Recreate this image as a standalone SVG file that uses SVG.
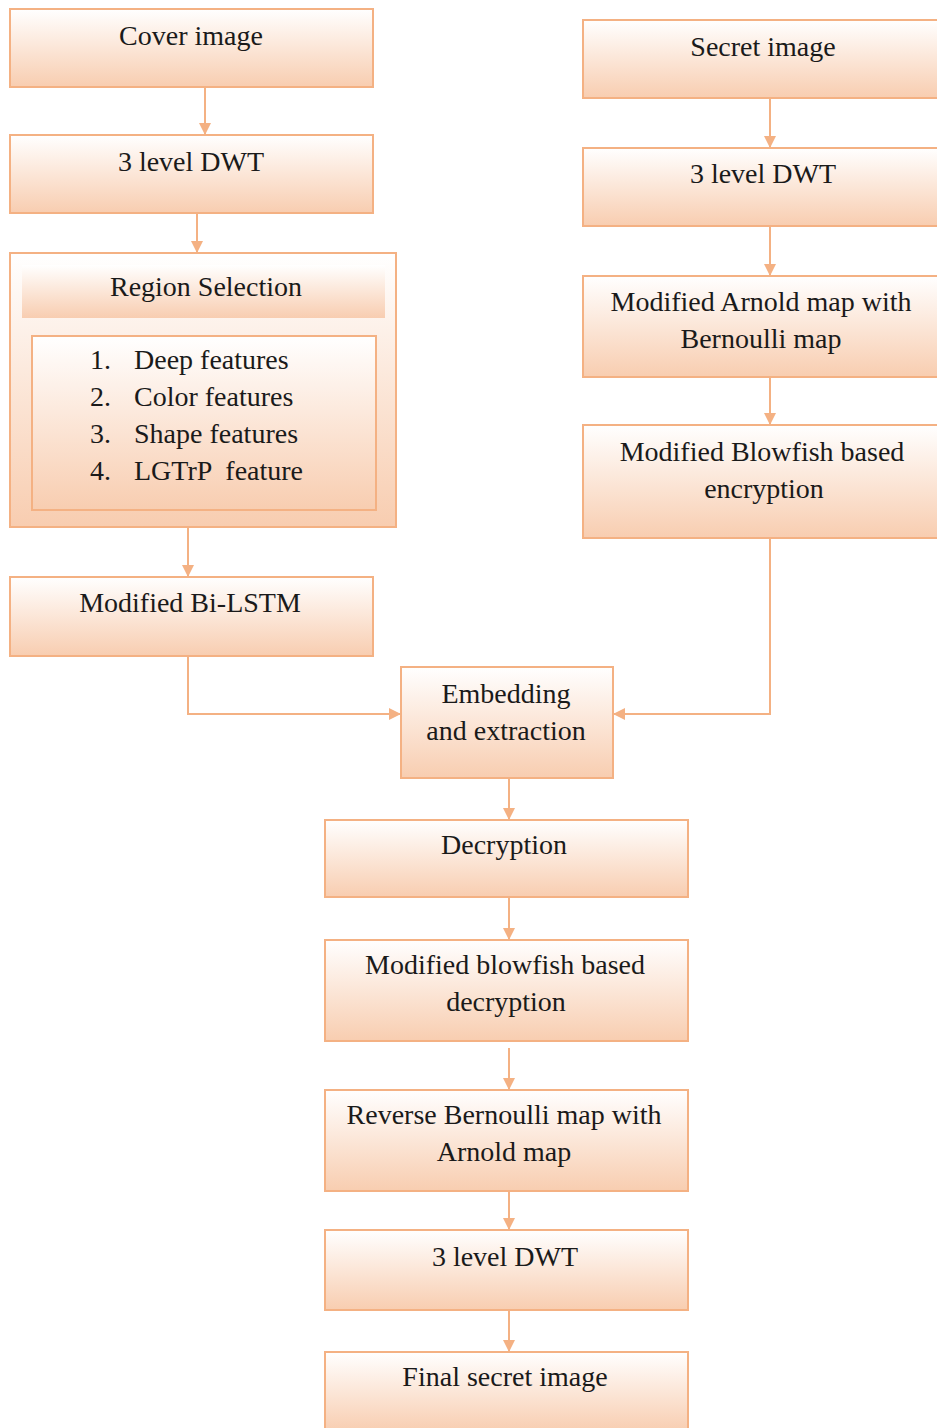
<svg xmlns="http://www.w3.org/2000/svg" width="937" height="1428" viewBox="0 0 937 1428">
<style>
.box{fill:url(#g);stroke:#f4b183;stroke-width:2}
.t{font-family:"Liberation Serif","Times New Roman","DejaVu Serif",serif;font-size:28px;fill:#1a1a1a;text-anchor:middle}
.tl{font-family:"Liberation Serif","Times New Roman","DejaVu Serif",serif;font-size:28px;fill:#1a1a1a}
.c{fill:none;stroke:#f4b183;stroke-width:2}
</style>
<defs>
<linearGradient id="g" x1="0" y1="0" x2="0" y2="1">
<stop offset="0" stop-color="#ffffff"/>
<stop offset="1" stop-color="#f8cdb0"/>
</linearGradient>
<marker id="a" markerWidth="12" markerHeight="12" refX="11" refY="6" orient="auto" markerUnits="userSpaceOnUse">
<path d="M0,0 L12,6 L0,12 Z" fill="#f4b183"/>
</marker>
</defs>
<rect width="937" height="1428" fill="#fff"/>
<g id="connectors">
<path class="c" d="M205,87 V134" marker-end="url(#a)"/>
<path class="c" d="M197,213 V252" marker-end="url(#a)"/>
<path class="c" d="M188,527 V576" marker-end="url(#a)"/>
<path class="c" d="M188,656 V714 H400" marker-end="url(#a)"/>
<path class="c" d="M770,98 V147" marker-end="url(#a)"/>
<path class="c" d="M770,226 V275" marker-end="url(#a)"/>
<path class="c" d="M770,377 V424" marker-end="url(#a)"/>
<path class="c" d="M770,538 V714 H614" marker-end="url(#a)"/>
<path class="c" d="M509,778 V819" marker-end="url(#a)"/>
<path class="c" d="M509,897 V939" marker-end="url(#a)"/>
<path class="c" d="M509,1048 V1089" marker-end="url(#a)"/>
<path class="c" d="M509,1191 V1229" marker-end="url(#a)"/>
<path class="c" d="M509,1310 V1351" marker-end="url(#a)"/>
</g>
<g id="cover"><rect class="box" x="10" y="9" width="363" height="78"/><text class="t" x="191" y="45">Cover image</text></g>
<g id="dwt1"><rect class="box" x="10" y="135" width="363" height="78"/><text class="t" x="191" y="171">3 level DWT</text></g>
<g id="region">
<rect class="box" x="10" y="253" width="386" height="274"/>
<rect x="22" y="265" width="363" height="53" fill="url(#g)"/>
<text class="t" x="206" y="296">Region Selection</text>
<rect class="box" x="32" y="336" width="344" height="174"/>
<text class="tl" x="90" y="369">1.</text><text class="tl" x="134" y="369">Deep features</text>
<text class="tl" x="90" y="406">2.</text><text class="tl" x="134" y="406">Color features</text>
<text class="tl" x="90" y="443">3.</text><text class="tl" x="134" y="443">Shape features</text>
<text class="tl" x="90" y="480">4.</text><text class="tl" x="134" y="480" xml:space="preserve">LGTrP  feature</text>
</g>
<g id="bilstm"><rect class="box" x="10" y="577" width="363" height="79"/><text class="t" x="190" y="612">Modified Bi-LSTM</text></g>
<g id="secret"><rect class="box" x="583" y="20" width="360" height="78"/><text class="t" x="763" y="56">Secret image</text></g>
<g id="dwt2"><rect class="box" x="583" y="148" width="360" height="78"/><text class="t" x="763" y="183">3 level DWT</text></g>
<g id="arnold"><rect class="box" x="583" y="276" width="360" height="101"/><text class="t" x="761" y="311">Modified Arnold map with</text><text class="t" x="761" y="348">Bernoulli map</text></g>
<g id="blowfish"><rect class="box" x="583" y="425" width="360" height="113"/><text class="t" x="762" y="461">Modified Blowfish based</text><text class="t" x="764" y="498">encryption</text></g>
<g id="embed"><rect class="box" x="401" y="667" width="212" height="111"/><text class="t" x="506" y="703">Embedding</text><text class="t" x="506" y="740">and extraction</text></g>
<g id="decrypt"><rect class="box" x="325" y="820" width="363" height="77"/><text class="t" x="504" y="854">Decryption</text></g>
<g id="mbd"><rect class="box" x="325" y="940" width="363" height="101"/><text class="t" x="505" y="974">Modified blowfish based</text><text class="t" x="506" y="1011">decryption</text></g>
<g id="reverse"><rect class="box" x="325" y="1090" width="363" height="101"/><text class="t" x="504" y="1124">Reverse Bernoulli map with</text><text class="t" x="504" y="1161">Arnold map</text></g>
<g id="dwt3"><rect class="box" x="325" y="1230" width="363" height="80"/><text class="t" x="505" y="1266">3 level DWT</text></g>
<g id="final"><rect class="box" x="325" y="1352" width="363" height="80"/><text class="t" x="505" y="1386">Final secret image</text></g>
</svg>
